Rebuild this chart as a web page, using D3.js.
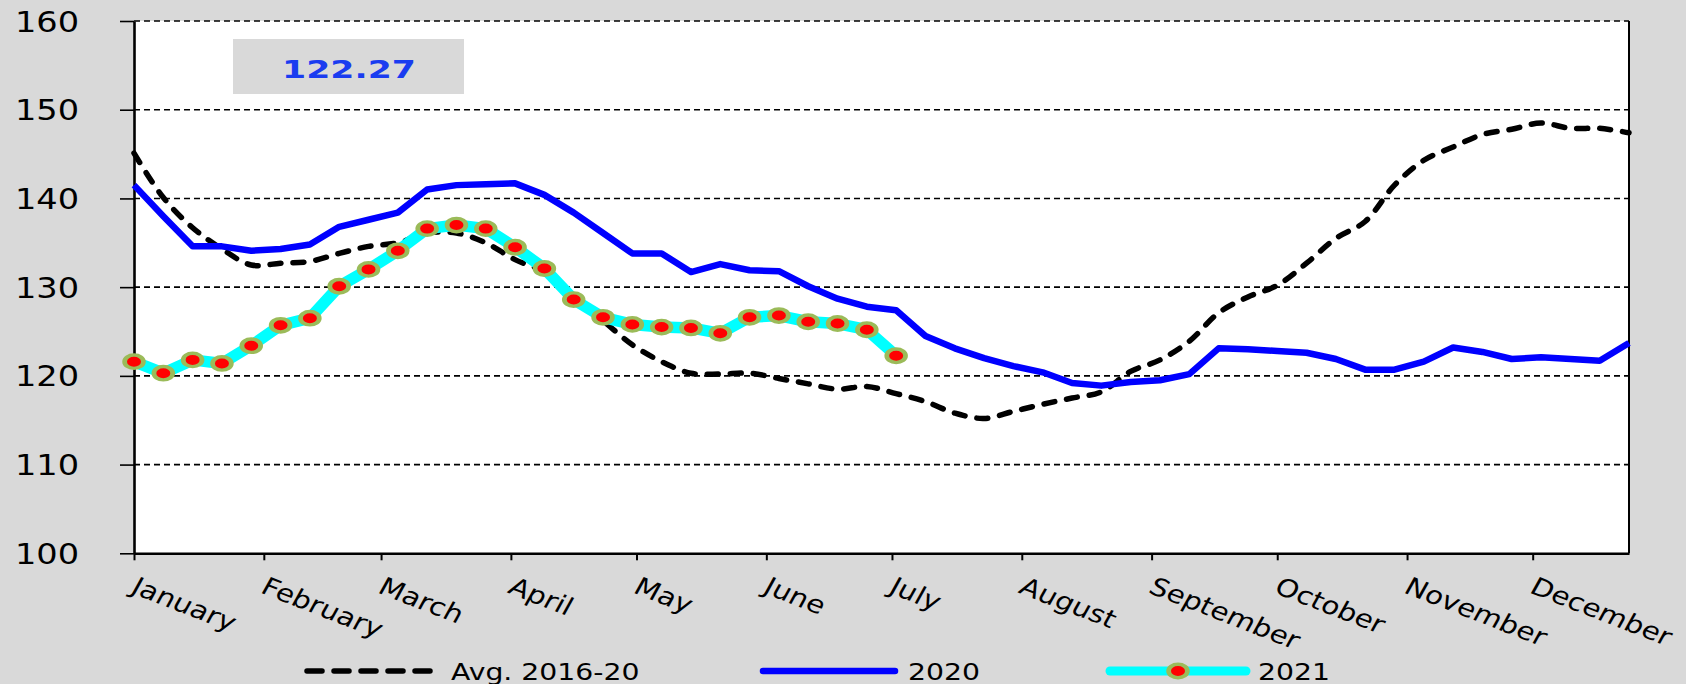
<!DOCTYPE html>
<html><head><meta charset="utf-8">
<script src="https://cdn.jsdelivr.net/npm/d3@7"></script>
<style>body{margin:0;background:#d9d9d9;} svg{display:block}</style>
</head><body>
<svg id="c" width="1686" height="684"></svg>
<script>
// ---------- data ----------
const months = ["January","February","March","April","May","June","July","August","September","October","November","December"];
const monthStartDay = [0,31,59,90,120,151,181,212,243,273,304,334];
const yTicks = [100,110,120,130,140,150,160];
const seriesNames = ["Avg. 2016-20","2020","2021"];
const avg = [145.1,140.1,136.7,134.3,132.5,132.7,132.9,133.8,134.6,135.0,136.1,136.1,135.0,133.1,131.7,128.8,126.2,123.5,121.6,120.3,120.2,120.3,119.7,119.1,118.5,118.8,118.0,117.1,115.8,115.2,116.0,116.8,117.5,118.2,120.5,121.8,123.9,127.1,128.9,130.2,132.7,135.5,137.4,141.5,144.3,145.8,147.2,147.8,148.5,147.9,147.9,147.4];
const s2020 = [141.5,138.0,134.6,134.6,134.1,134.3,134.8,136.8,137.6,138.4,141.0,141.5,141.6,141.7,140.4,138.4,136.1,133.8,133.8,131.7,132.6,131.9,131.8,130.1,128.7,127.8,127.4,124.5,123.1,122.0,121.1,120.4,119.2,118.9,119.3,119.5,120.2,123.1,123.0,122.8,122.6,121.9,120.7,120.7,121.6,123.2,122.7,121.9,122.1,121.9,121.7,123.7];
const s2021 = [121.6,120.3,121.8,121.4,123.4,125.7,126.5,130.1,132.0,134.1,136.6,137.0,136.6,134.5,132.1,128.6,126.6,125.8,125.5,125.4,124.8,126.6,126.8,126.1,125.9,125.2,122.27];
const latestLabel = "122.27";
const daysPerWeek = 7;

// ---------- layout ----------
const W = 1686, H = 684;
const plot = {left:134, right:1629, top:21, bottom:553.3};
const STRETCH = 1.2; // horizontal text stretch of original picture
const svg = d3.select("#c");
const x = d3.scaleLinear().domain([0, (avg.length-1)*daysPerWeek]).range([plot.left, plot.right]);
const y = d3.scaleLinear().domain([100,160]).range([plot.bottom, plot.top]);
const FONT = "'DejaVu Sans', Verdana, sans-serif";

svg.append("rect").attr("width",W).attr("height",H).attr("fill","#d9d9d9");
svg.append("rect").attr("x",plot.left).attr("y",plot.top)
  .attr("width",plot.right-plot.left).attr("height",plot.bottom-plot.top)
  .attr("fill","#ffffff");

// gridlines
svg.append("g").selectAll("line").data(yTicks.filter(d=>d>100)).join("line")
  .attr("x1",plot.left).attr("x2",plot.right)
  .attr("y1",d=>y(d)).attr("y2",d=>y(d))
  .attr("stroke","#000").attr("stroke-width",1.6).attr("stroke-dasharray","6,4");

// right border
svg.append("line").attr("x1",plot.right).attr("x2",plot.right).attr("y1",plot.top).attr("y2",plot.bottom)
  .attr("stroke","#000").attr("stroke-width",2);

// y axis
const yAxis = svg.append("g").attr("transform",`translate(${plot.left},0)`)
  .call(d3.axisLeft(y).tickValues(yTicks).tickSize(14).tickSizeOuter(0).tickFormat(d3.format("d")));
yAxis.select(".domain").attr("stroke","#000").attr("stroke-width",2.6);
yAxis.selectAll(".tick line").attr("stroke","#000").attr("stroke-width",1.6);
yAxis.selectAll(".tick text").attr("x",0).attr("dy","0.36em")
  .attr("transform",`translate(-55,0) scale(${STRETCH},1)`)
  .attr("font-family",FONT).attr("font-size",28).attr("fill","#000").attr("text-anchor","end");

// x axis
const xAxis = svg.append("g").attr("transform",`translate(0,${plot.bottom})`)
  .call(d3.axisBottom(x).tickValues(monthStartDay).tickSize(7).tickSizeOuter(0).tickFormat((d,i)=>months[i]));
xAxis.select(".domain").attr("stroke","#000").attr("stroke-width",2.6);
xAxis.selectAll(".tick line").attr("stroke","#000").attr("stroke-width",2);
xAxis.selectAll(".tick text").attr("x",0).attr("y",0).attr("dy",0)
  .attr("transform",`translate(-5,39) scale(${STRETCH},1) rotate(25)`)
  .attr("font-family",FONT).attr("font-size",24.5).attr("fill","#000").attr("text-anchor","start");

// lines
const lineSmooth = d3.line().x((d,i)=>x(i*daysPerWeek)).y(d=>y(d)).curve(d3.curveCatmullRom.alpha(0.5));
const lineStraight = d3.line().x((d,i)=>x(i*daysPerWeek)).y(d=>y(d));

svg.append("path").datum(avg).attr("d",lineSmooth).attr("fill","none")
  .attr("stroke","#000").attr("stroke-width",5.5).attr("stroke-dasharray","11,12").attr("stroke-linecap","round");
svg.append("path").datum(s2020).attr("d",lineStraight).attr("fill","none")
  .attr("stroke","#0000ff").attr("stroke-width",6.5).attr("stroke-linejoin","round");
svg.append("path").datum(s2021).attr("d",lineStraight).attr("fill","none")
  .attr("stroke","#00ffff").attr("stroke-width",11.5).attr("stroke-linejoin","round").attr("stroke-linecap","round");
svg.append("g").selectAll("circle").data(s2021).join("circle")
  .attr("transform",(d,i)=>`translate(${x(i*daysPerWeek)},${y(d)}) scale(1.4,1)`)
  .attr("r",6.7)
  .attr("fill","#ff0000").attr("stroke","#9bbb59").attr("stroke-width",3.4);

// value box
svg.append("rect").attr("x",233).attr("y",39).attr("width",231).attr("height",55).attr("fill","#d9d9d9");
svg.append("text").text(latestLabel)
  .attr("transform",`translate(349,77.5) scale(1.36,1)`)
  .attr("text-anchor","middle").attr("font-family",FONT).attr("font-weight","bold")
  .attr("font-size",25.5).attr("fill","#1a3cf0");

// legend
const legY = 671;
const legendItems = [
  {name:seriesNames[0], x1:307, x2:439, tx:451},
  {name:seriesNames[1], x1:763, x2:895, tx:908},
  {name:seriesNames[2], x1:1110, x2:1246, tx:1258}
];
const lg = svg.append("g");
lg.append("line").attr("x1",legendItems[0].x1).attr("x2",legendItems[0].x2).attr("y1",legY).attr("y2",legY)
  .attr("stroke","#000").attr("stroke-width",5.5).attr("stroke-dasharray","15,12").attr("stroke-linecap","round");
lg.append("line").attr("x1",legendItems[1].x1).attr("x2",legendItems[1].x2).attr("y1",legY).attr("y2",legY)
  .attr("stroke","#0000ff").attr("stroke-width",6.5).attr("stroke-linecap","round");
lg.append("line").attr("x1",legendItems[2].x1).attr("x2",legendItems[2].x2).attr("y1",legY).attr("y2",legY)
  .attr("stroke","#00ffff").attr("stroke-width",9).attr("stroke-linecap","round");
lg.append("circle")
  .attr("transform",`translate(${(legendItems[2].x1+legendItems[2].x2)/2},${legY}) scale(1.4,1)`)
  .attr("r",6.7).attr("fill","#ff0000").attr("stroke","#9bbb59").attr("stroke-width",3.4);
lg.selectAll("text").data(legendItems).join("text").text(d=>d.name)
  .attr("transform",d=>`translate(${d.tx},${legY+8.5}) scale(1.23,1)`)
  .attr("font-family",FONT).attr("font-size",23).attr("fill","#000");
</script>
</body></html>
